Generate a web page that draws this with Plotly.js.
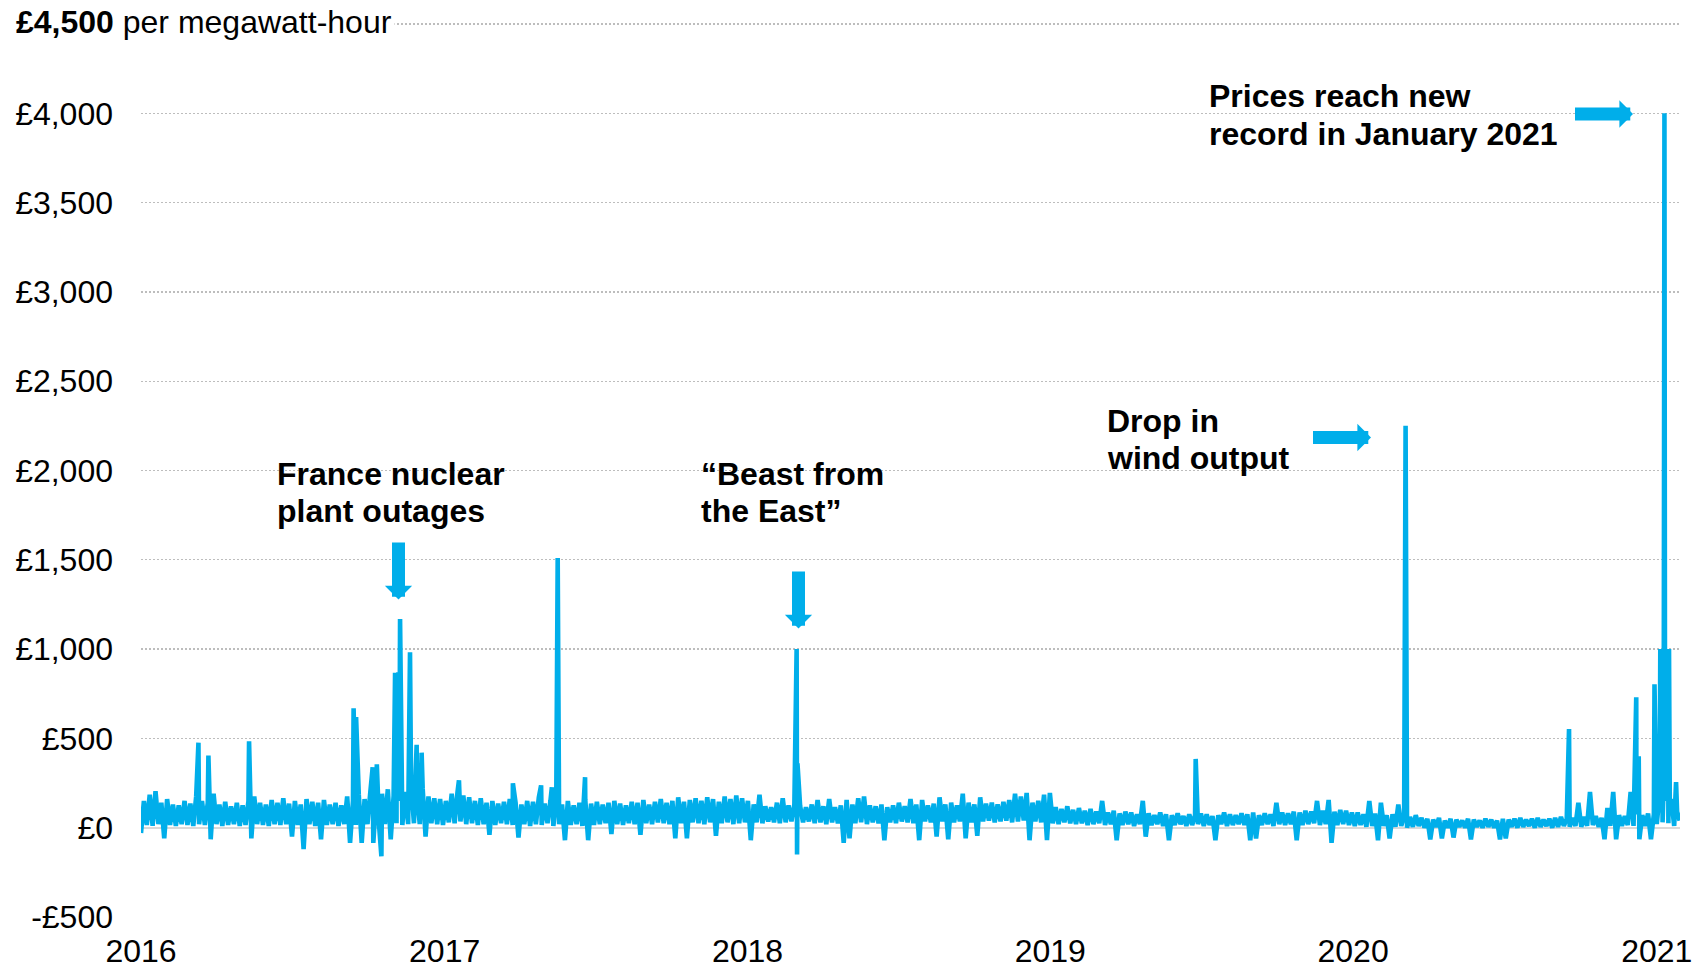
<!DOCTYPE html>
<html>
<head>
<meta charset="utf-8">
<script src="https://cdn.plot.ly/plotly-3.0.1.min.js"></script>
<style>
html,body{margin:0;padding:0;background:#fff;}
#chart{width:1693px;height:969px;}
</style>
</head>
<body>
<div id="chart"></div>
<script>
// ---------- DATA ----------
// Weekly envelope of the half-hourly price (£/MWh): one low and one high per week,
// weeks counted from 1 Jan 2016.
const high2016 = [150,185,205,140,160,130,125,150,135,175,
                  150,140,190,130,145,120,140,125,150,175,
                  140,130,155,140,165,135,150,130,160,145,
                  140,155,130,140,125,175,150,185,160,205,
                  170,190,215,180,230,200,250,190,220,175,
                  165,160,150];
const low2016  = [-30,15,10,20,-60,15,10,20,15,10,
                  20,15,-65,20,10,15,20,10,15,-60,
                  20,15,10,20,15,20,-50,15,-120,20,
                  10,-65,15,20,10,20,-85,15,-85,20,
                  -85,10,20,-65,25,15,20,25,20,-50,
                  25,20,15];
const high2017 = [190,200,180,170,150,165,140,150,135,145,
                  160,140,130,150,145,170,135,150,140,130,
                  150,125,140,155,135,145,130,140,150,135,
                  125,145,140,155,130,145,160,140,150,170,
                  145,155,165,150,170,160,145,175,160,180,
                  165,150];
const low2017  = [30,25,35,20,25,15,20,-40,15,25,
                  20,15,-55,20,10,20,15,25,10,20,
                  -70,15,20,10,-70,15,20,25,-35,20,
                  15,25,20,-40,25,20,30,25,20,-60,
                  25,-60,30,25,20,30,-45,25,30,20,
                  25,30];
const high2018 = [130,185,120,115,140,165,125,130,120,115,
                  130,155,120,160,115,125,155,130,165,175,
                  125,120,130,115,125,140,120,160,130,155,
                  125,135,170,130,140,125,190,140,130,170,
                  135,140,130,145,155,190,175,195,140,150,
                  185,195];
const low2018  = [-70,30,25,35,30,25,30,35,25,30,
                  35,25,30,20,30,25,-85,-60,25,30,
                  20,30,25,-70,30,25,35,30,25,-70,
                  35,30,-50,35,-65,30,35,-60,30,-45,
                  35,40,30,35,40,30,35,40,-70,35,
                  30,-70];
const high2019 = [115,105,120,100,110,95,105,90,150,85,
                  95,80,90,85,75,150,80,70,85,75,
                  70,80,65,75,70,80,75,65,70,85,
                  75,70,80,75,85,70,80,75,140,85,
                  80,90,85,95,90,150,95,155,90,100,
                  95,85];
const low2019  = [25,20,30,25,20,25,15,20,25,15,
                  20,-70,15,20,10,20,-50,15,20,10,
                  -70,15,20,10,15,20,10,15,-70,20,
                  10,15,20,15,-70,-60,15,20,10,20,
                  15,20,-70,15,20,25,15,20,-85,15,
                  20,15];
const high2020 = [85,75,150,80,140,70,75,130,65,60,
                  70,55,50,45,55,40,50,45,40,50,
                  45,40,50,45,40,50,45,50,55,45,
                  50,55,45,50,55,60,50,55,140,60,
                  200,65,55,110,200,70,65,200,75,70,
                  80,75];
const low2020  = [10,15,5,10,-70,10,-60,5,10,0,
                  5,10,0,-65,5,-60,0,-55,5,0,
                  -65,5,0,5,0,-65,-60,5,0,5,
                  10,0,5,10,0,5,10,5,10,5,
                  10,15,5,-65,10,-65,10,15,10,-65,
                  10,-65];
const high2021 = [190,150,160,90];
const low2021  = [20,30,25,10];

// Individual price spikes / dips
const eventDates = [
  '2016-03-10 06:00','2016-03-22 06:00','2016-05-10 06:00','2016-09-13 06:00','2016-09-16 06:00',
  '2016-10-06 06:00','2016-10-11 06:00','2016-10-16 18:00','2016-11-02 06:00','2016-11-03 06:00',
  '2016-11-04 06:00','2016-11-05 06:00','2016-11-06 06:00','2016-11-07 06:00','2016-11-08 06:00',
  '2016-11-20 06:00','2016-11-28 06:00','2016-12-04 06:00','2017-01-18 06:00','2017-03-24 06:00',
  '2017-04-27 06:00','2017-05-10 06:00','2017-05-17 06:00','2017-06-19 06:00','2018-03-01 06:00',
  '2018-03-01 18:00','2018-03-02 06:00','2019-06-25 06:00','2020-03-04 06:00','2020-09-17 06:00',
  '2020-12-07 06:00','2020-12-10 06:00','2020-12-29 06:00','2021-01-05 06:00','2021-01-06 12:00',
  '2021-01-07 06:00','2021-01-08 18:00','2021-01-09 12:00','2021-01-10 06:00','2021-01-11 00:00',
  '2021-01-12 18:00','2021-01-13 18:00','2021-01-14 18:00','2021-01-15 18:00','2021-01-16 18:00',
  '2021-01-24 06:00','2021-01-28 12:00'];
const eventValues = [
  476,404,484,669,620,
  338,355,-160,867,120,
  860,150,870,180,1169,
  982,464,420,265,249,
  237,226,1510,283,1000,
  -150,360,385,2250,552,
  730,400,803,1000,120,
  1000,150,1000,4000,200,
  1000,150,1000,1000,90,
  255,40];

const yTickVals = [-500,0,500,1000,1500,2000,2500,3000,3500,4000,4500];
const yTickText = ['-£500','£0','£500','£1,000','£1,500','£2,000','£2,500','£3,000','£3,500','£4,000',''];
const xTickVals = ['2016-01-01','2017-01-01','2018-01-01','2019-01-01','2020-01-01','2021-01-01'];
const xTickText = ['2016','2017','2018','2019','2020','2021'];

const axisTitle = '<b>£4,500</b> per megawatt-hour';
const notes = [
  ['France nuclear','plant outages'],
  ['“Beast from','the East”'],
  ['Drop in','wind output'],
  ['Prices reach new','record in January 2021']
];

// ---------- BUILD SERIES ----------
const weekHigh = [].concat(high2016,high2017,high2018,high2019,high2020,high2021);
const weekLow  = [].concat(low2016,low2017,low2018,low2019,low2020,low2021);
const DAY = 86400000;
const t0 = Date.UTC(2016,0,1);
const pts = [];
weekHigh.forEach((h,i)=>{
  const t = t0 + i*7*DAY;
  pts.push([t, weekLow[i]]);
  pts.push([t + 3.5*DAY, h]);
});
eventDates.forEach((d,i)=>{
  pts.push([Date.parse(d.replace(' ','T')+':00Z'), eventValues[i]]);
});
pts.sort((a,b)=>a[0]-b[0]);
const xs = pts.map(p=>new Date(p[0]).toISOString().slice(0,16).replace('T',' '));
const ys = pts.map(p=>p[1]);

// ---------- LAYOUT ----------
const FONT = 'Arial, "Liberation Sans", sans-serif';
const FS = 32;
const BLUE = '#00AEEA';
const L=141, R=1680, T=20, B=917;   // plot box in pixels; £4,500 sits at y=24, -£500 at y=917
const W=R-L, H=B-T;
const px = v => (v-L)/W;
const py = v => (B-v)/H;

function textNote(line, x, y){
  return {xref:'paper', yref:'paper', x:px(x), y:py(y), xanchor:'left', yanchor:'middle',
    text:'<b>'+line+'</b>', showarrow:false, font:{family:FONT, size:FS, color:'#000'}};
}
function arrowNote(tipX, tipY, ax, ay){
  return {xref:'paper', yref:'paper', x:px(tipX), y:py(tipY), ax:ax, ay:ay, text:'',
    showarrow:true, arrowhead:1, arrowsize:0.35, arrowwidth:13, arrowcolor:BLUE,
    standoff:0, borderpad:0, borderwidth:0, font:{size:1}};
}

const annotations = [
  {xref:'paper', yref:'paper', x:px(12.5), y:py(22.5), xanchor:'left', yanchor:'middle',
   text:axisTitle, showarrow:false, bgcolor:'#ffffff', borderpad:2,
   font:{family:FONT, size:FS, color:'#000'}},
  textNote(notes[0][0], 275, 474), textNote(notes[0][1], 275, 511),
  textNote(notes[1][0], 699, 474), textNote(notes[1][1], 699, 511),
  textNote(notes[2][0], 1105, 420.5), textNote(notes[2][1], 1105, 458),
  textNote(notes[3][0], 1207, 96), textNote(notes[3][1], 1207, 134),
  arrowNote(398.5, 599.5, 0, -57),
  arrowNote(798.5, 628.5, 0, -57),
  arrowNote(1371, 437.5, -58, 0),
  arrowNote(1633, 114, -58, 0)
];

const data = [{
  type:'scatter', mode:'lines', x:xs, y:ys,
  line:{color:BLUE, width:4.6, simplify:false},
  hoverinfo:'skip'
}];

const yTop = 4500 + (5000/(B-24))*(24-T);

const layout = {
  width:1693, height:969,
  margin:{l:L, r:1693-R, t:T, b:969-B, pad:0},
  paper_bgcolor:'#ffffff', plot_bgcolor:'#ffffff',
  showlegend:false, hovermode:false,
  font:{family:FONT, size:FS, color:'#000'},
  xaxis:{
    type:'date', range:['2016-01-01','2021-01-29'],
    tickmode:'array', tickvals:xTickVals, ticktext:xTickText,
    showgrid:false, zeroline:false, showline:false, ticks:'',
    tickfont:{family:FONT, size:FS, color:'#000'}, ticklabelstandoff:12
  },
  yaxis:{
    range:[-500,yTop], tickmode:'array', tickvals:yTickVals, ticktext:yTickText,
    showgrid:true, gridcolor:'#BDBDBD', gridwidth:1.3, griddash:'2px,2px',
    zeroline:true, zerolinecolor:'#D9D9D9', zerolinewidth:2,
    showline:false, ticks:'',
    tickfont:{family:FONT, size:FS, color:'#000'}, ticklabelstandoff:27
  },
  annotations:annotations
};

Plotly.newPlot('chart', data, layout, {staticPlot:true, displayModeBar:false});
</script>
</body>
</html>
